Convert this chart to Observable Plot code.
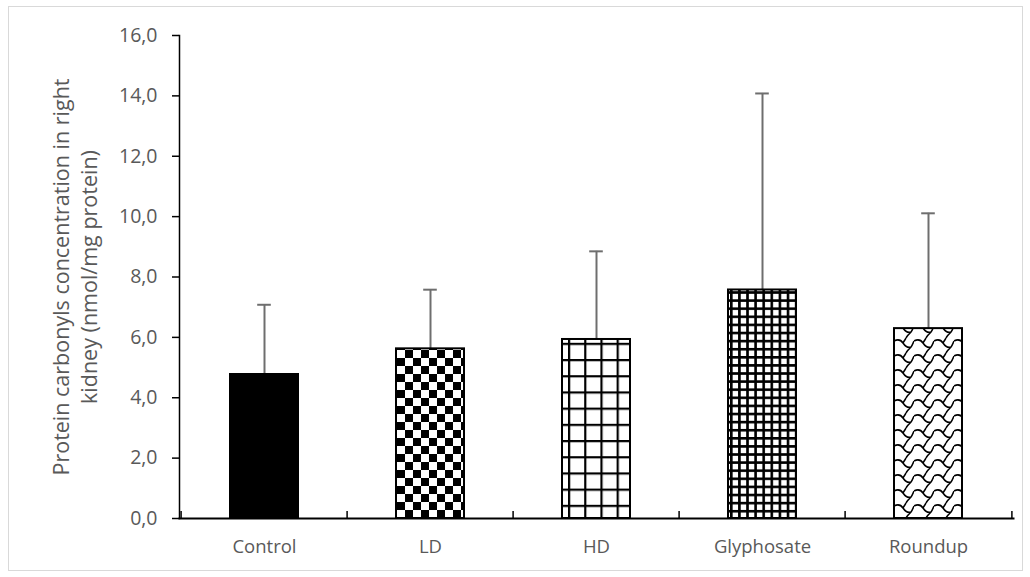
<!DOCTYPE html>
<html>
<head>
<meta charset="utf-8">
<script src="https://cdn.jsdelivr.net/npm/d3@7"></script>
<script src="https://cdn.jsdelivr.net/npm/@observablehq/plot@0.6"></script>
<style>
  html, body { margin: 0; padding: 0; background: #fff; }
  #chart { width: 1030px; height: 577px; }
</style>
</head>
<body>
<div id="chart"></div>
<script>
const categories = ["Control", "LD", "HD", "Glyphosate", "Roundup"];
const means = [4.77, 5.62, 5.93, 7.57, 6.29];
const upperErr = [7.08, 7.58, 8.85, 14.08, 10.11];
const fills = ["black", "url(#p-ld)", "url(#p-hd)", "url(#p-gly)", "url(#p-rup)"];
const yTicks = [0, 2, 4, 6, 8, 10, 12, 14, 16];
const yLabelLines = ["Protein carbonyls concentration in right", "kidney (nmol/mg protein)"];

const data = categories.map((c, i) => ({cat: c, mean: means[i], upper: upperErr[i], fill: fills[i]}));

const W = 1030, H = 577, mL = 179, mR = 17, mT = 35, mB = 59;
const pIn = 0.59, pOut = 0.295;
const step = (W - mL - mR) / (categories.length - pIn + 2 * pOut);
const bw = step * (1 - pIn);
const capW = 14;
const fmt = d => d.toFixed(1).replace(".", ",");
const font = "'Open Sans', sans-serif";
const grey = "#595959";
const errColor = "#6e6e6e";

const plot = Plot.plot({
  width: W, height: H,
  marginLeft: mL, marginRight: mR, marginTop: mT, marginBottom: mB,
  x: {domain: categories, paddingInner: pIn, paddingOuter: pOut, axis: null},
  y: {domain: [0, 16], axis: null},
  color: {type: "identity"},
  style: {fontFamily: font, background: "white", overflow: "visible"},
  marks: [
    Plot.axisY({ticks: yTicks, tickSize: 7, tickPadding: 15, tickFormat: fmt, fontSize: 19.5,
      stroke: "black", fill: grey, label: null, strokeWidth: 1.5}),
    Plot.axisX({tickSize: 0, tickPadding: 21, fontSize: 18.5, fill: grey, label: null}),
    Plot.ruleX(data, {x: "cat", y1: "mean", y2: "upper", stroke: errColor, strokeWidth: 2}),
    Plot.tickY(data, {x: "cat", y: "upper", stroke: errColor, strokeWidth: 2,
      insetLeft: (bw - capW) / 2, insetRight: (bw - capW) / 2}),
    Plot.barY(data, {x: "cat", y: "mean", fill: "fill", stroke: "black", strokeWidth: 2}),
    Plot.ruleX(categories, {x: d => d, y1: 0, y2: 0.23, dx: -step / 2, stroke: "black", strokeWidth: 1.5}),
    Plot.ruleX([categories[categories.length - 1]], {x: d => d, y1: 0, y2: 0.23, dx: step / 2, stroke: "black", strokeWidth: 1.5}),
    Plot.frame({anchor: "left", stroke: "black", strokeWidth: 1.5}),
    Plot.frame({anchor: "bottom", stroke: "black", strokeWidth: 2}),
    Plot.text([yLabelLines.join("\n")], {frameAnchor: "left", rotate: -90, dx: -105,
      textAnchor: "middle", fontSize: 21.5, fill: grey, lineHeight: 1.3, text: d => d})
  ]
});

// patterns
const svg = d3.select(plot);
const defs = svg.insert("defs", ":first-child");
const xs = plot.scale("x");
const y0 = plot.scale("y").apply(0);
function left(cat) { return xs.apply(cat); }

// LD checkerboard
{
  const p = defs.append("pattern").attr("id", "p-ld").attr("patternUnits", "userSpaceOnUse")
    .attr("x", left("LD") + 1).attr("y", y0).attr("width", 16).attr("height", 16);
  p.append("rect").attr("width", 16).attr("height", 16).attr("fill", "white");
  p.append("rect").attr("width", 8).attr("height", 8).attr("fill", "black");
  p.append("rect").attr("x", 8).attr("y", 8).attr("width", 8).attr("height", 8).attr("fill", "black");
}
// HD large grid
{
  const s = 16.2;
  const p = defs.append("pattern").attr("id", "p-hd").attr("patternUnits", "userSpaceOnUse")
    .attr("x", left("HD") + 6).attr("y", y0 + 3).attr("width", s).attr("height", s);
  p.append("rect").attr("width", s).attr("height", s).attr("fill", "white");
  p.append("rect").attr("x", 0).attr("width", 2.2).attr("height", s).attr("fill", "black");
  p.append("rect").attr("y", 0).attr("width", s).attr("height", 2.2).attr("fill", "black");
}
// Glyphosate small grid
{
  const s = 8.1;
  const p = defs.append("pattern").attr("id", "p-gly").attr("patternUnits", "userSpaceOnUse")
    .attr("x", left("Glyphosate") + 2).attr("y", y0).attr("width", s).attr("height", s);
  p.append("rect").attr("width", s).attr("height", s).attr("fill", "white");
  p.append("rect").attr("width", 2.6).attr("height", s).attr("fill", "black");
  p.append("rect").attr("width", s).attr("height", 2.6).attr("fill", "black");
}
// Roundup shingle pattern
{
  const w = 20, h = 15;
  const p = defs.append("pattern").attr("id", "p-rup").attr("patternUnits", "userSpaceOnUse")
    .attr("x", left("Roundup")).attr("y", y0).attr("width", w).attr("height", h);
  p.append("rect").attr("width", w).attr("height", h).attr("fill", "white");
  p.append("path")
    .attr("d", "M0,3 C4,1 7,2 9,5 C11,8 14,10 17,9 C18,8 19,5 20,3 M17,9 C15,11 13,13 12,15 M12,0 C11,2 10,3 9,5")
    .attr("fill", "none").attr("stroke", "black").attr("stroke-width", 1.6);
}
// outer light frame
svg.append("rect").attr("x", 8.5).attr("y", 6.5).attr("width", W - 16).attr("height", H - 13)
  .attr("fill", "none").attr("stroke", "#d9d9d9").attr("stroke-width", 1);

document.getElementById("chart").appendChild(plot);
</script>
</body>
</html>
